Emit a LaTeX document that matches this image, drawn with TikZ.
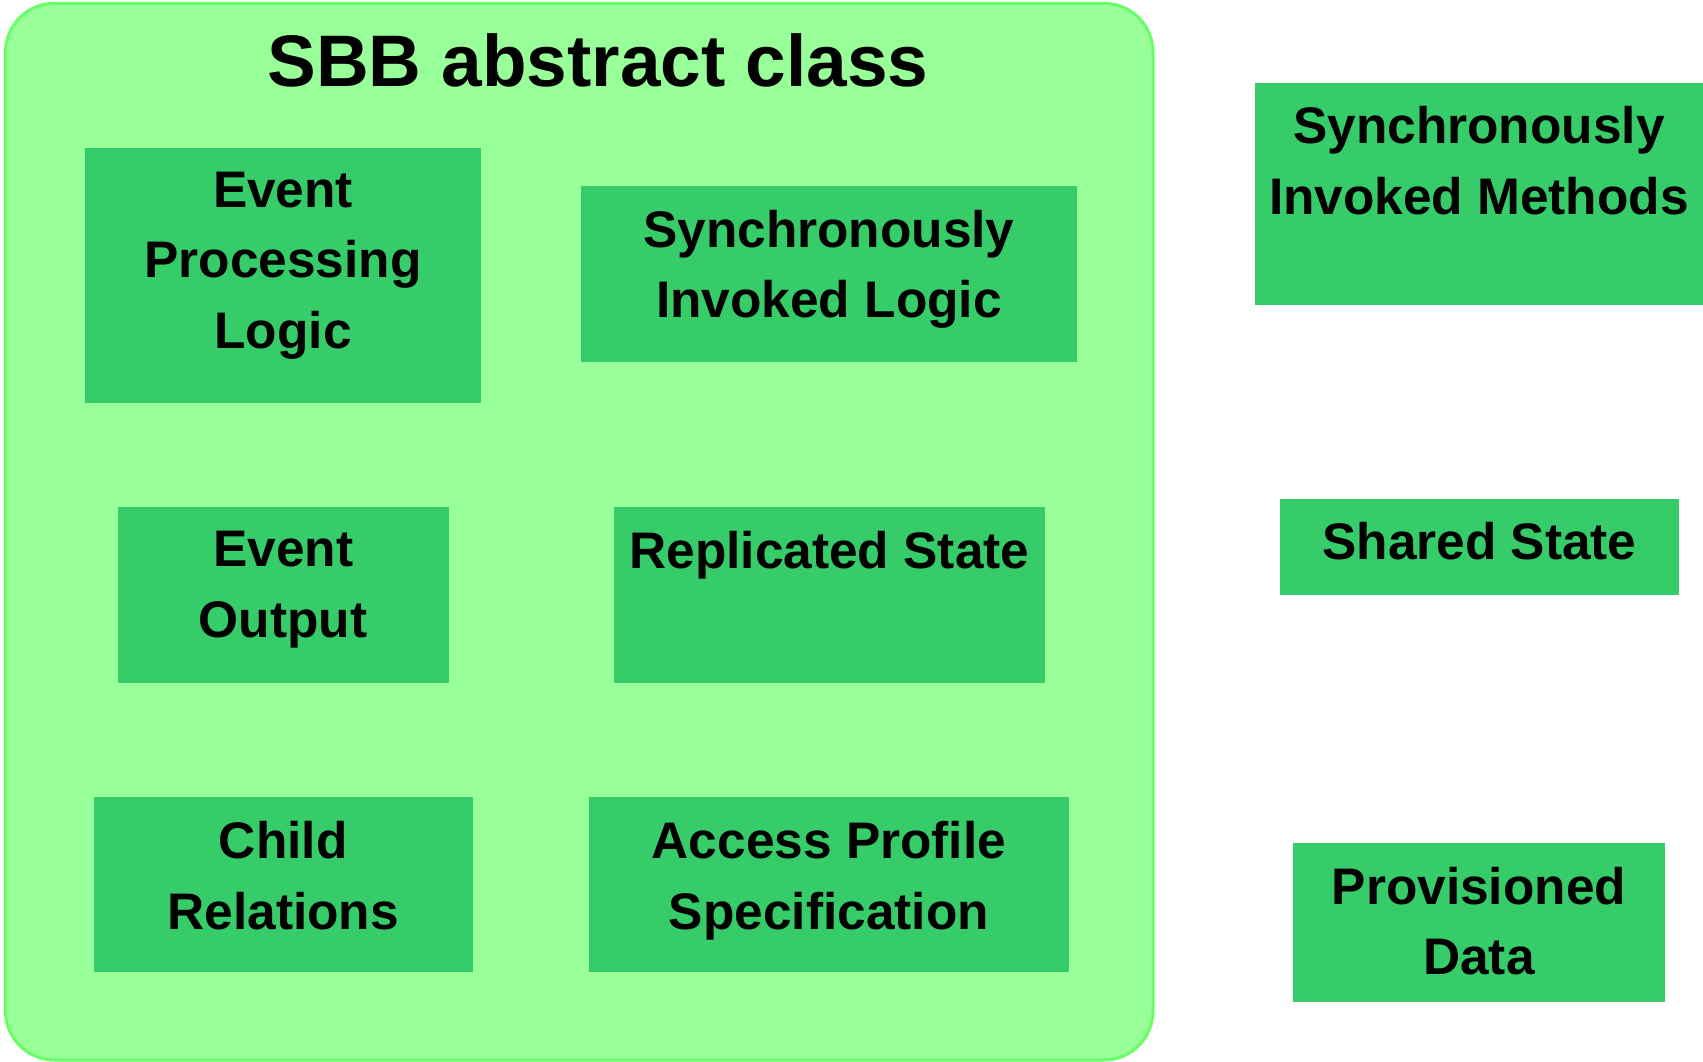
\documentclass[tikz,border=0pt]{standalone}
\usepackage{fontspec}
\setmainfont{Liberation Sans}
\definecolor{sbbback}{RGB}{153,255,153}
\definecolor{sbbedge}{RGB}{102,255,102}
\definecolor{partfill}{RGB}{54,204,106}
\begin{document}
\begin{tikzpicture}[x=1pt,y=-1pt,
	part/.style={fill=partfill,inner sep=0,anchor=north west},
	partlabel/.style={anchor=north,inner sep=0,align=center,font=\bfseries\fontsize{51.4}{70.6}\selectfont}]
\useasboundingbox (0,0) rectangle (1703,1062);
% the abstract class frame
\draw[sbbedge,fill=sbbback,line width=3pt,rounded corners=49pt] (5.4,3.3) rectangle (1153,1060);
\node[anchor=north,inner sep=0,font=\bfseries\fontsize{73}{80}\selectfont] (title) at (598,33.5) {SBB abstract class};
% parts inside and outside the class
\foreach \name/\x/\y/\w/\h/\txt in {
	epl/84.7/147.7/396.4/255.2/{Event\\Processing\\Logic},
	sil/581.1/185.7/495.2/176/{Synchronously\\Invoked Logic},
	eo/117.3/507.2/331.3/176/{Event\\Output},
	rs/613.6/507.2/431.2/176/{Replicated State},
	cr/93.4/797.2/379.1/174.9/{Child\\Relations},
	aps/588.7/797.2/480/174.9/{Access Profile\\Specification},
	sim/1254.4/82.5/448.6/222.7/{Synchronously\\Invoked Methods},
	ss/1279.4/498.5/399.7/96.7/{Shared State},
	pd/1292.5/842.8/372.5/158.6/{Provisioned\\Data}}
{
	\node[part,minimum width=\w pt,minimum height=\h pt] (\name) at (\x,\y) {};
	\node[partlabel] (\name-label) at ([yshift=-24pt]\name.north) {\txt};
}
\end{tikzpicture}
\end{document}
